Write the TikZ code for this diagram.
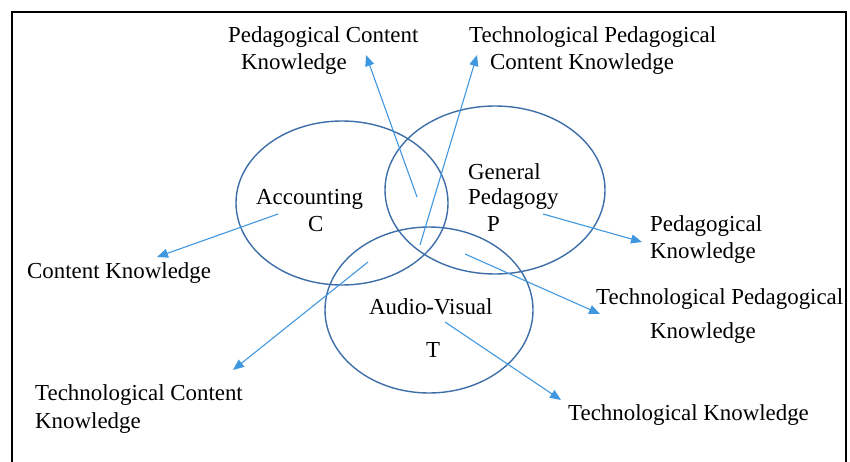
\documentclass[tikz,border=0pt]{standalone}
\usepackage{fontspec}
\setmainfont{Liberation Serif}
\usetikzlibrary{arrows.meta,shapes.geometric}
\definecolor{ringc}{HTML}{3E6EA8}
\definecolor{arrc}{HTML}{3F97E0}
\begin{document}
\begin{tikzpicture}[x=1pt,y=-1pt,
  lbl/.style={anchor=base west,inner sep=0pt,font=\fontsize{22.9}{27}\selectfont},
  ring/.style={draw=ringc,line width=1.4pt,ellipse,inner sep=0pt},
  arr/.style={draw=arrc,line width=1.1pt,-{Triangle[length=11pt,width=9pt]}}]
\useasboundingbox (0,0) rectangle (850,462);
\draw[line width=1.5pt] (12,475) -- (12,12) -- (846,12) -- (846,475);
% circles
\node[ring,minimum width=212pt,minimum height=164pt] (cC) at (342,203) {};
\node[ring,minimum width=220pt,minimum height=168pt] (cP) at (495,190) {};
\node[ring,minimum width=208pt,minimum height=166pt] (cT) at (429,310) {};
% labels inside
\node[lbl] (acc) at (256,205) {Accounting};
\node[lbl] (c) at (308,232) {C};
\node[lbl] (gen) at (468,180) {General};
\node[lbl] (ped) at (468,205) {Pedagogy};
\node[lbl] (p) at (487,232) {P};
\node[lbl] (av) at (369,314) {Audio-Visual};
\node[lbl] (t) at (426,357) {T};
% outer labels
\node[lbl] (pck1) at (228,43) {Pedagogical Content};
\node[lbl] (pck2) at (241,70) {Knowledge};
\node[lbl] (tpck1) at (469,43) {Technological Pedagogical};
\node[lbl] (tpck2) at (490,70) {Content Knowledge};
\node[lbl] (ck) at (27,278) {Content Knowledge};
\node[lbl] (pk1) at (650,231) {Pedagogical};
\node[lbl] (pk2) at (650,258) {Knowledge};
\node[lbl] (tpk1) at (596,304) {Technological Pedagogical};
\node[lbl] (tpk2) at (650,338) {Knowledge};
\node[lbl] (tck1) at (35,400) {Technological Content};
\node[lbl] (tck2) at (35,428) {Knowledge};
\node[lbl] (tk) at (568,420) {Technological Knowledge};
% arrow ends
\coordinate (a1s) at (417,197); \coordinate (a1e) at (366,55);
\coordinate (a2s) at (420,245); \coordinate (a2e) at (477,55);
\coordinate (a3s) at (278,214); \coordinate (a3e) at (157,257);
\coordinate (a4s) at (543,214); \coordinate (a4e) at (642,242);
\coordinate (a5s) at (465,254); \coordinate (a5e) at (600,314);
\coordinate (a6s) at (368,262); \coordinate (a6e) at (233,370);
\coordinate (a7s) at (445,322); \coordinate (a7e) at (561,400);
\draw[arr] (a1s) -- (a1e);
\draw[arr] (a2s) -- (a2e);
\draw[arr] (a3s) -- (a3e);
\draw[arr] (a4s) -- (a4e);
\draw[arr] (a5s) -- (a5e);
\draw[arr] (a6s) -- (a6e);
\draw[arr] (a7s) -- (a7e);
\end{tikzpicture}
\end{document}
